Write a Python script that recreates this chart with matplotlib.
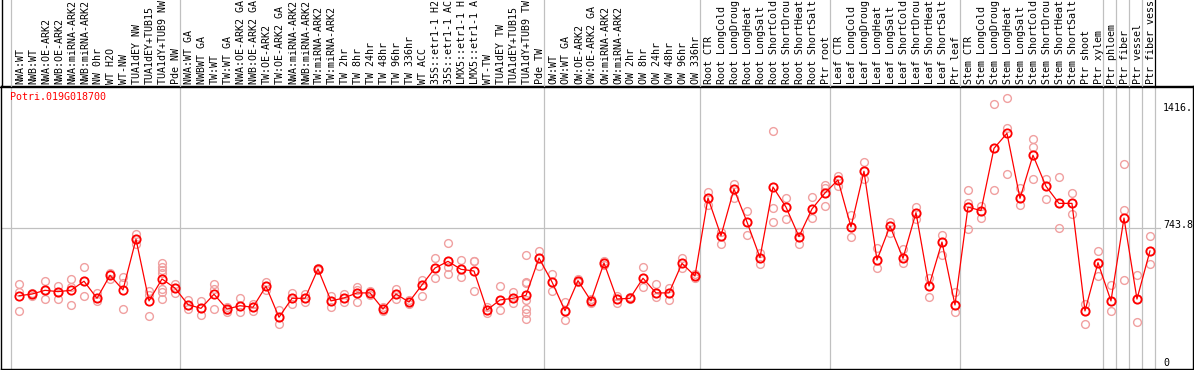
import matplotlib
matplotlib.use("Agg")
import matplotlib.pyplot as plt
from matplotlib.lines import Line2D
from matplotlib.transforms import blended_transform_factory

gene = "Potri.019G018700"

group_sizes = [13, 28, 12, 10, 10, 11, 1, 1, 1, 1]

labels = [
    "NWA:WT", "NWB:WT", "NWA:OE-ARK2", "NWB:OE-ARK2", "NWA:miRNA-ARK2", "NWB:miRNA-ARK2",
    "NW 0hr", "WT H2O", "WT-NW", "TUA1dEY NW", "TUA1dEY+TUB15", "TUA1dY+TUB9 NW", "Pde NW",
    "NWA:WT GA", "NWBWT GA", "TW:WT", "TW:WT GA", "NWA:OE-ARK2 GA", "NWB:OE-ARK2 GA",
    "TW:OE-ARK2", "TW:OE-ARK2 GA", "NWA:miRNA-ARK2", "NWB:miRNA-ARK2", "TW:miRNA-ARK2",
    "TW:miRNA-ARK2", "TW 2hr", "TW 8hr", "TW 24hr", "TW 48hr", "TW 96hr", "TW 336hr", "WT ACC",
    "35S::etr1-1 H2", "35S::etr1-1 AC", "LMX5::etr1-1 H", "LMX5::etr1-1 A", "WT-TW",
    "TUA1dEY TW", "TUA1dEY+TUB15", "TUA1dY+TUB9 TW", "Pde TW",
    "OW:WT", "OW:WT GA", "OW:OE-ARK2", "OW:OE-ARK2 GA", "OW:miRNA-ARK2", "OW:miRNA-ARK2",
    "OW 2hr", "OW 8hr", "OW 24hr", "OW 48hr", "OW 96hr", "OW 336hr",
    "Root CTR", "Root LongCold", "Root LongDroug", "Root LongHeat", "Root LongSalt",
    "Root ShortCold", "Root ShortDrou", "Root ShortHeat", "Root ShortSalt", "Ptr root",
    "Leaf CTR", "Leaf LongCold", "Leaf LongDroug", "Leaf LongHeat", "Leaf LongSalt",
    "Leaf ShortCold", "Leaf ShortDrou", "Leaf ShortHeat", "Leaf ShortSalt", "Ptr leaf",
    "Stem CTR", "Stem LongCold", "Stem LongDroug", "Stem LongHeat", "Stem LongSalt",
    "Stem ShortCold", "Stem ShortDrou", "Stem ShortHeat", "Stem ShortSalt", "Ptr shoot",
    "Ptr xylem", "Ptr phloem", "Ptr fiber", "Ptr vessel", "Ptr fiber vess",
]

means = [
    381, 390, 410, 403, 410, 459, 367, 491, 412, 685, 353, 471, 422,
    333, 313, 389, 309, 327, 319, 432, 265, 367, 367, 525, 353, 369, 396, 396, 309, 390,
    347, 439, 530, 566, 523, 514, 304, 358, 367, 383, 584,
    455, 300, 462, 353, 557, 363, 367, 475, 396, 396, 555, 487,
    907, 704, 955, 778, 586, 966, 858, 699, 848, 934,
    1004, 751, 1051, 573, 756, 582, 828, 433, 670, 331,
    858, 839, 1174, 1255, 905, 1137, 970, 878, 878, 299, 559,
    353, 799, 363, 622,
]

replicates = [
    [444, 403, 299], [398, 390, 379], [460, 410, 365], [433, 403, 365], [471, 430, 331],
    [535, 458, 378], [394, 367, 354], [505, 498, 469], [480, 447, 309], [713, 684, 659],
    [406, 385, 270], [557, 537, 519, 505, 415, 403, 363], [444, 422, 394],
    [358, 333, 309], [352, 313, 275], [444, 415, 308], [318, 304, 295], [367, 327, 291],
    [338, 318, 300], [455, 431, 412], [304, 264, 227], [395, 367, 338], [392, 367, 347],
    [532, 525, 517], [381, 352, 322], [390, 369, 345], [430, 412, 345], [406, 395, 385],
    [318, 309, 297], [417, 390, 363], [358, 347, 336], [465, 439, 379], [584, 530, 474],
    [663, 566, 537, 498], [571, 523, 480], [569, 566, 406], [318, 304, 290], [433, 358, 304],
    [401, 367, 340], [600, 453, 447, 385, 358, 309, 290, 254], [621, 584, 541],
    [498, 455, 406], [347, 300, 250], [469, 462, 455], [361, 352, 340], [569, 557, 546],
    [381, 363, 340], [372, 367, 361], [535, 474, 426], [444, 395, 372], [422, 395, 358],
    [586, 555, 528], [498, 487, 476],
    [937, 907, 867], [726, 704, 661], [982, 955, 905], [837, 778, 708], [613, 586, 552],
    [1266, 966, 851, 776], [905, 858, 792], [726, 699, 661], [912, 848, 797],
    [977, 959, 934, 864],
    [1025, 1004, 971], [815, 751, 695], [1100, 1050, 1007], [636, 573, 530], [778, 756, 720],
    [630, 582, 555], [860, 828, 792], [474, 433, 372], [706, 670, 598], [399, 331, 291],
    [950, 878, 858, 738], [864, 839, 797], [1413, 1174, 948], [1445, 1285, 1034],
    [959, 905, 869], [1224, 1179, 1136, 1009], [1009, 970, 901], [1020, 878, 745],
    [934, 878, 821], [338, 299, 227], [620, 559, 485],
    [439, 352, 300], [1090, 842, 464], [491, 363, 238], [702, 621, 550],
]

ytick_values = [0, 743.8, 1416]
ytick_labels = ["0", "743.8", "1416."]

W, H = 1194, 370
fig = plt.figure(figsize=(W / 100, H / 100), dpi=100)
ax = fig.add_axes([1 / W, 1 - 369 / H, 1192 / W, 283 / H])
ax.set_xlim(-1.385, 90.31)
ax.set_ylim(-13.5, 1509.7)
ax.set_xticks([])
ax.set_yticks([])
for s in ax.spines.values():
    s.set_color("black")
    s.set_linewidth(1.0)

grey = "#C0C0C0"
mono = "DejaVu Sans Mono"
fs = 7.2

# group separators
starts = [0]
for g in group_sizes:
    starts.append(starts[-1] + g)
tr_label = blended_transform_factory(ax.transData, fig.transFigure)
for k, s in enumerate(starts):
    xs = s - 0.615
    ax.axvline(xs, color=grey, lw=0.9, zorder=0)
    col = "black" if k == len(starts) - 1 else grey
    fig.add_artist(Line2D([xs, xs], [1 - 86 / H, 1], transform=tr_label,
                          color=col, lw=0.9))

# left border in label area
fig.add_artist(Line2D([1.5 / W, 1.5 / W], [1 - 86 / H, 1], transform=fig.transFigure,
                      color="black", lw=1.0))
fig.add_artist(Line2D([0, 1], [1 - 86.5 / H, 1 - 86.5 / H], transform=fig.transFigure,
                      color="black", lw=1.0))

# horizontal grid line
ax.axhline(ytick_values[1], xmin=0, xmax=(1160 - 1) / 1192, color=grey, lw=0.9, zorder=0)

# replicates
for i, reps in enumerate(replicates):
    ax.plot([i] * len(reps), reps, linestyle="none", marker="o", ms=5.6,
            mfc="none", mec="#F0A0A0", mew=1.0, zorder=2)

# mean line
xs = list(range(len(means)))
ax.plot(xs, means, color="#FF0000", lw=0.9, marker="o", ms=6.0, mfc="none",
        mec="#FF0000", mew=1.3, zorder=3)

# column labels
for i, lab in enumerate(labels):
    ax.text(i + 0.08, 1 - 84 / H, lab, transform=tr_label, rotation=90,
            ha="center", va="bottom", fontsize=fs, family=mono, clip_on=False)

# y labels
tr_y = blended_transform_factory(fig.transFigure, ax.transData)
ax.text(1163 / W, ytick_values[0], ytick_labels[0], transform=tr_y, ha="left",
        va="baseline", fontsize=fs, family=mono)
ax.text(1163 / W, ytick_values[1], ytick_labels[1], transform=tr_y, ha="left",
        va="baseline", fontsize=fs, family=mono)
ax.text(1163 / W, ytick_values[2], ytick_labels[2], transform=tr_y, ha="left",
        va="top", fontsize=fs, family=mono)

# gene name
fig.text(10 / W, 1 - 97 / H, gene, color="#FF0000", ha="left", va="center",
         fontsize=fs, family=mono)

fig.savefig("out.png", dpi=100)
